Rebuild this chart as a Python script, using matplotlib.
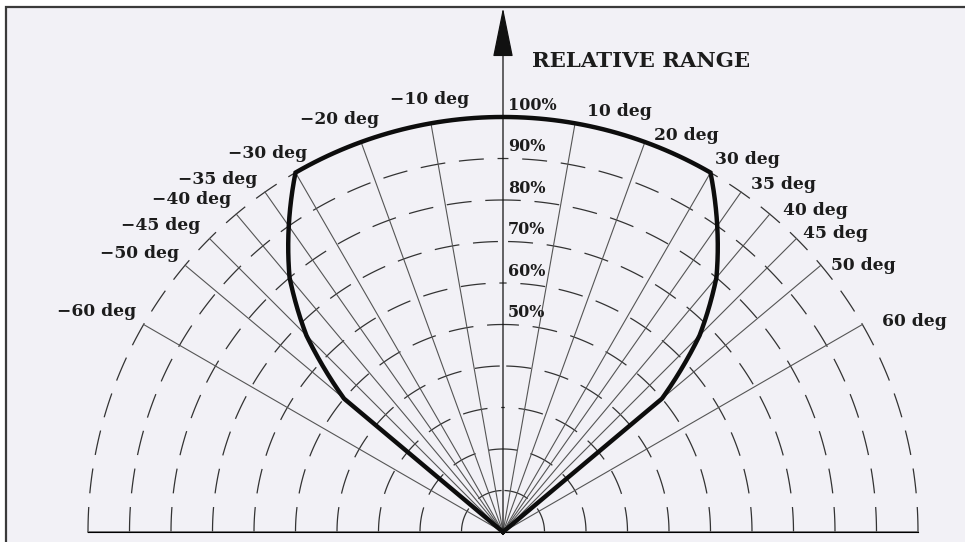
import numpy as np
import matplotlib
matplotlib.use('Agg')
import matplotlib.pyplot as plt
from matplotlib.path import Path
from matplotlib.patches import Rectangle

# 数据
spoke_angles = [-60, -50, -45, -40, -35, -30, -20, -10, 0, 10, 20, 30, 35, 40, 45, 50, 60]
ring_ranges = [10, 20, 30, 40, 50, 60, 70, 80, 90, 100]
pct_labels = [50, 60, 70, 80, 90, 100]

# 探测范围包络线 (角度, 相对距离%)
env_angle = [-50, -50, -45, -40, -35, -30, 30, 35, 40, 45, 50, 50]
env_range = [0, 50, 67, 80, 90, 100, 100, 90, 80, 67, 50, 0]

title = 'RELATIVE RANGE'

# 角度标签的位置 (像素, 图片坐标)
W, H = 965, 542
label_pos = {
    -60: (97, 311), -50: (139, 253), -45: (161, 225), -40: (192, 200),
    -35: (218, 180), -30: (268, 154), -20: (340, 119), -10: (430, 100),
    10: (619, 111), 20: (686, 136), 30: (747, 160), 35: (783, 185),
    40: (815, 211), 45: (835, 234), 50: (863, 266), 60: (914, 322),
}


def px(x, y):
    return x / W, 1 - y / H


fig = plt.figure(figsize=(W / 100, H / 100), dpi=100, facecolor='white')
fig.patches.append(Rectangle(px(6, 560), 1.2, (560 - 7) / H, transform=fig.transFigure,
                             facecolor='#f2f1f6', edgecolor='#3a3a3a', lw=1.6, zorder=-10))

R = 415  # 100% 半径 (像素)
ax = fig.add_axes([(503 - R) / W, (H - 532 - R / 2) / H, 2 * R / W, 2 * R / H],
                  projection='polar')
ax.set_theta_zero_location('N')
ax.set_theta_direction(-1)
ax.set_thetamin(-90)
ax.set_thetamax(90)
ax.set_rlim(0, 100)
ax.grid(False)
ax.set_xticks([])
ax.set_yticks([])
for s in ax.spines.values():
    s.set_visible(False)
ax.patch.set_visible(False)


def polar_line(theta_deg, r, steps=60, **kw):
    p = Path(np.column_stack([np.radians(theta_deg), r])).interpolated(steps)
    return ax.plot(p.vertices[:, 0], p.vertices[:, 1], **kw)


# 虚线同心圆弧 (从底线开始画)
for r in ring_ranges:
    for side in (-90, 90):
        ln, = polar_line([side, 0], [r, r], steps=120, color='#333333', lw=0.9,
                         clip_on=False)
        ln.set_dashes((20, 11))

# 底线
polar_line([-90, -90], [100, 0], steps=1, color='#666666', lw=1.2, clip_on=False)
polar_line([90, 90], [100, 0], steps=1, color='#666666', lw=1.2, clip_on=False)

# 放射线
for a in spoke_angles:
    if a == 0:
        continue
    polar_line([a, a], [0, 100], steps=1, color='#555555', lw=0.8, clip_on=False)

# 纵轴箭头
ax.annotate('', xy=(0, 126.3), xytext=(0, 0), annotation_clip=False,
            arrowprops=dict(arrowstyle='-|>,head_length=3.2,head_width=0.65',
                            mutation_scale=10, color='#111111', lw=0.9,
                            shrinkA=0, shrinkB=0))

# 包络线
polar_line(env_angle, env_range, steps=60, color='#0d0d0d', lw=3.2,
           solid_joinstyle='miter', clip_on=False, zorder=5)

font = dict(family='DejaVu Serif', weight='bold', color='#1c1c1c')

for p in pct_labels:
    ax.annotate(f'{p}%', xy=(0, p), xytext=(3.6, 8.3), textcoords='offset points',
                ha='left', va='center', fontsize=11.5, annotation_clip=False, **font)

for a, (x, y) in label_pos.items():
    txt = f'{a} deg'.replace('-', '\u2212')
    fig.text(*px(x, y), txt, ha='center', va='center', fontsize=12.3, **font)

fig.text(*px(532, 61), title, ha='left', va='center', fontsize=15.3, **font)

fig.savefig('out.png', dpi=100, facecolor=fig.get_facecolor())
